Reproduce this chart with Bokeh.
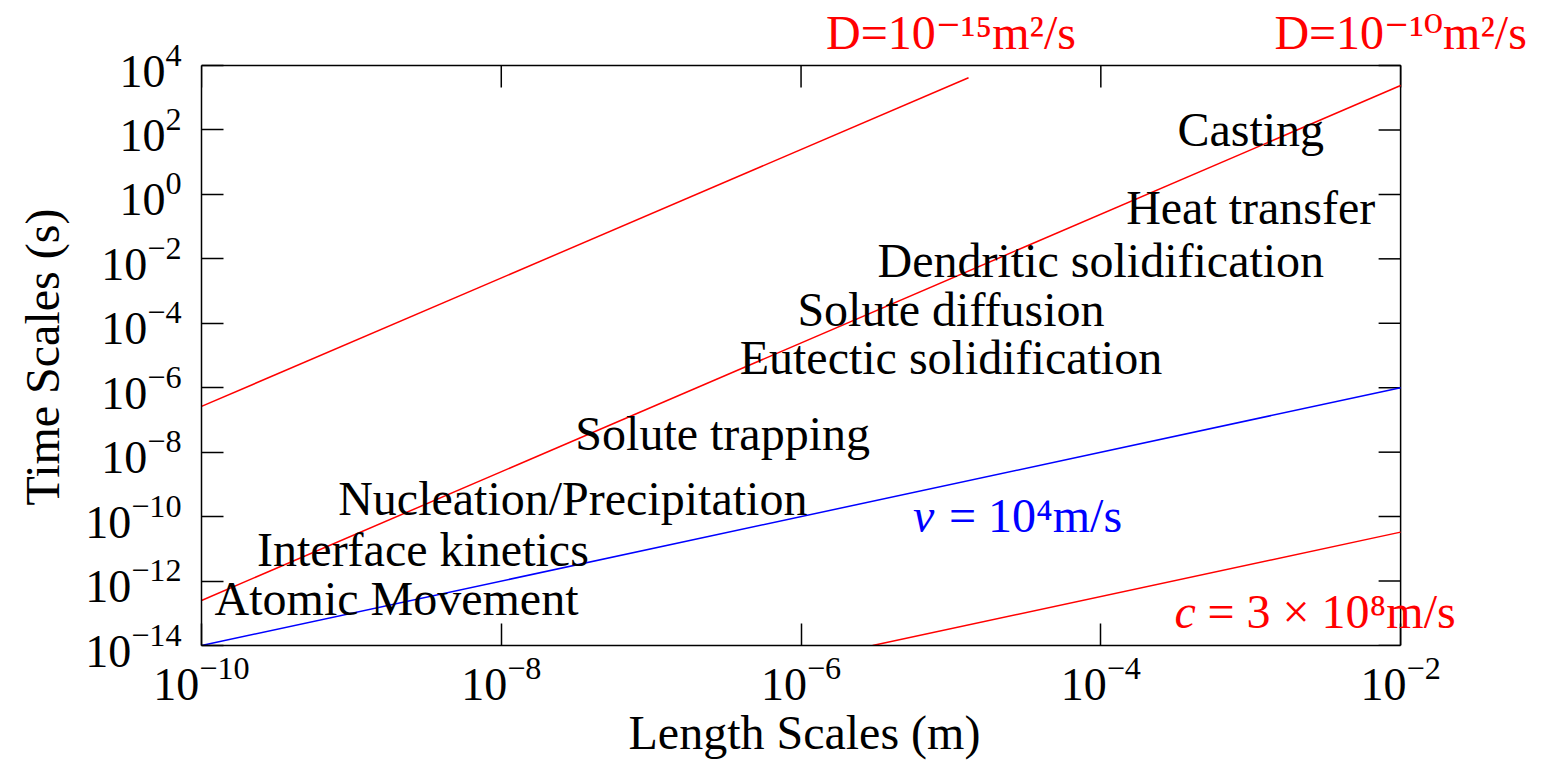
import numpy as np
from bokeh.plotting import figure
from bokeh.models import FixedTicker, Label, Range1d, LogTickFormatter, Title
from bokeh.embed import file_html
from bokeh.resources import INLINE
from bokeh.core.properties import value

# ---- data ----
x_ticks = [1e-10, 1e-8, 1e-6, 1e-4, 1e-2]
y_ticks = [1e-14, 1e-12, 1e-10, 1e-8, 1e-6, 1e-4, 1e-2, 1e0, 1e2, 1e4]

d15_x = [1e-10, 1.31e-5]
d15_y = [2.63e-7, 4.15e3]
d10_x = [1e-10, 1e-2]
d10_y = [2.5e-13, 2.4e3]
v_x = [1e-10, 1e-2]
v_y = [1e-14, 1e-6]
c_x = [3.0e-6, 1e-2]
c_y = [1e-14, 3.3e-11]

proc_labels = ["Casting", "Heat transfer", "Dendritic solidification",
               "Solute diffusion", "Eutectic solidification", "Solute trapping",
               "Nucleation/Precipitation", "Interface kinetics", "Atomic Movement"]
proc_x = [1e-3, 1e-3, 1e-4, 1e-5, 1e-5, 3e-7, 3e-8, 3e-9, 2e-9]
proc_y = [35, 0.135, 3.0e-3, 9.1e-5, 3.0e-6, 1.3e-8, 1.27e-10, 3.2e-12, 9.8e-14]

diff_labels = ["D=10\u207b\u00b9\u2075m\u00b2/s", "D=10\u207b\u00b9\u2070m\u00b2/s"]
diff_x = [1e-5, 1e-2]
diff_y = [3.7e4, 3.7e4]

x_title = "Length Scales (m)"
y_title = "Time Scales (s)"

FONT = "Liberation Serif"
FONT_SUP = "Liberation Serif, DejaVu Serif"
FS_TICK = "46px"
FS = "48px"
YOFF = 15  # baseline correction (px, upward)

# the frame spans the whole canvas to the top and right so outer texts are not clipped
x_lo, x_hi = x_ticks[0], x_ticks[-1]
y_lo, y_hi = y_ticks[0], y_ticks[-1]
p = figure(width=1547, height=764, x_axis_type="log", y_axis_type="log",
           x_range=Range1d(x_lo, x_hi * 10 ** (147 / 150)),
           y_range=Range1d(y_lo, y_hi * 10 ** (65 / 32.22)),
           output_backend="svg", toolbar_location=None,
           min_border_left=200, min_border_right=0,
           min_border_top=0, min_border_bottom=119)
p.grid.visible = False
p.outline_line_color = None
p.background_fill_color = "white"
p.border_fill_color = "white"


def style_axis(ax):
    ax.major_tick_in = 22
    ax.major_tick_out = 0
    ax.minor_tick_in = 0
    ax.minor_tick_out = 0
    ax.axis_line_width = 1.5
    ax.major_tick_line_width = 1.5
    ax.axis_line_color = "black"
    ax.major_tick_line_color = "black"
    ax.major_label_text_font = FONT
    ax.major_label_text_font_size = FS_TICK
    ax.major_label_text_color = "black"


xa = p.xaxis[0]
xa.ticker = FixedTicker(ticks=x_ticks)
xa.formatter = LogTickFormatter()
xa.bounds = (x_lo, x_hi)
style_axis(xa)
xa.major_label_standoff = 12

ya = p.yaxis[0]
ya.ticker = FixedTicker(ticks=y_ticks)
ya.formatter = LogTickFormatter()
ya.bounds = (y_lo, y_hi)
style_axis(ya)
ya.major_label_standoff = 20

# axis titles, placed under / beside the box rather than the (wider) frame
p.add_layout(Title(text=x_title, align="left", offset=427, standoff=2,
                   text_font=FONT, text_font_size=FS, text_font_style="normal",
                   text_color="black"), "below")
p.add_layout(Title(text=y_title, align="left", offset=140, standoff=27,
                   text_font=FONT, text_font_size=FS, text_font_style="normal",
                   text_color="black"), "left")

# top and right edges of the box with inward mirror ticks
p.line([x_lo, x_hi, x_hi], [y_hi, y_hi, y_lo], line_color="black", line_width=1.5)
p.ray(x=[x_hi] * len(y_ticks), y=y_ticks, length=22, length_units="screen",
      angle=np.pi, line_color="black", line_width=1.5)
p.ray(x=x_ticks, y=[y_hi] * len(x_ticks), length=22, length_units="screen",
      angle=-np.pi / 2, line_color="black", line_width=1.5)

p.line(d15_x, d15_y, line_color="#ff0000", line_width=1.5)
p.line(d10_x, d10_y, line_color="#ff0000", line_width=1.5)
p.line(v_x, v_y, line_color="#0000ff", line_width=1.5)
p.line(c_x, c_y, line_color="#ff0000", line_width=1.5)

p.text(x=proc_x, y=proc_y, text=proc_labels, text_font=value(FONT),
       text_font_size=FS, text_align="center", text_baseline="alphabetic",
       text_color="black", y_offset=-YOFF)

p.text(x=diff_x, y=diff_y, text=diff_labels, text_font=value(FONT_SUP),
       text_font_size=FS, text_align="center", text_baseline="alphabetic",
       text_color="#ff0000", y_offset=-YOFF)


def lab(x, y, t, color, style="normal", xoff=0):
    p.add_layout(Label(x=x, y=y, text=t, text_font=FONT_SUP, text_font_size=FS,
                       text_color=color, text_font_style=style,
                       text_align="left", text_baseline="alphabetic",
                       x_offset=xoff, y_offset=YOFF))


lab(5.58e-6, 3.7e-11, "v", "#0000ff", style="italic")
lab(5.58e-6, 3.7e-11, "= 10\u2074m/s", "#0000ff", xoff=36)
lab(3.1e-4, 4.0e-14, "c", "#ff0000", style="italic")
lab(3.1e-4, 4.0e-14, "= 3 \u00d7 10\u2078m/s", "#ff0000", xoff=33)

open("out.html", "w").write(file_html(p, INLINE))
